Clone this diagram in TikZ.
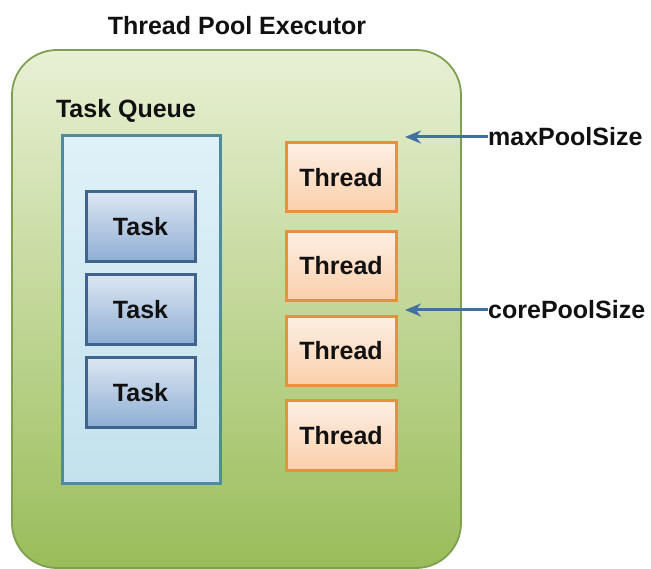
\documentclass[tikz,border=0pt]{standalone}
\usepackage{fontspec}
\setmainfont{Liberation Sans}
\usetikzlibrary{arrows.meta}
\definecolor{poolTop}{HTML}{E8F0D4}
\definecolor{poolBot}{HTML}{9ABD5A}
\definecolor{poolLine}{HTML}{7FA050}
\definecolor{queueTop}{HTML}{DFF1F8}
\definecolor{queueBot}{HTML}{C3E2ED}
\definecolor{queueLine}{HTML}{4E8C9C}
\definecolor{taskTop}{HTML}{DCE6F2}
\definecolor{taskBot}{HTML}{8EAED4}
\definecolor{taskLine}{HTML}{3F648E}
\definecolor{thrTop}{HTML}{FDEFE4}
\definecolor{thrBot}{HTML}{FBCFAA}
\definecolor{thrLine}{HTML}{E7913E}
\definecolor{arrowCol}{HTML}{41719C}
\definecolor{txt}{HTML}{111111}
\tikzset{
  lbl/.style={font=\fontsize{25}{29}\selectfont\bfseries, text=txt, inner sep=0pt},
  poolbox/.style={draw=poolLine, line width=1.8pt, top color=poolTop, bottom color=poolBot, rounded corners=45pt, minimum width=449pt, minimum height=518pt, inner sep=0pt},
  queuebox/.style={draw=queueLine, line width=3pt, top color=queueTop, bottom color=queueBot, minimum width=158pt, minimum height=347pt, inner sep=0pt},
  taskbox/.style={lbl, draw=taskLine, line width=3pt, top color=taskTop, bottom color=taskBot, minimum width=109pt, minimum height=70pt},
  thrbox/.style={lbl, draw=thrLine, line width=3pt, top color=thrTop, bottom color=thrBot, minimum width=110pt, minimum height=69pt},
  ptr/.style={draw=arrowCol, line width=3pt, -{Stealth[length=16pt,width=13pt]}}
}
\begin{document}
\begin{tikzpicture}[x=1pt,y=-1pt]
\useasboundingbox (0,0) rectangle (651,569);
\node[poolbox] (pool) at (236.5,309) {};
\node[lbl] (title) at (237,26) {Thread Pool Executor};
\node[queuebox] (queue) at (141,309.5) {};
\node[lbl] (qlabel) at (126,111) {Task Queue};
\node[taskbox] (t1) at (140.5,227) {Task};
\node[taskbox] (t2) at (140.5,310) {Task};
\node[taskbox] (t3) at (140.5,392.5) {Task};
\node[thrbox] (h1) at (341,177.5) {Thread};
\node[thrbox] (h2) at (341,266) {Thread};
\node[thrbox] (h3) at (341,351) {Thread};
\node[thrbox] (h4) at (341,435.5) {Thread};
\node[lbl, anchor=west] (maxl) at (488,137) {maxPoolSize};
\node[lbl, anchor=west] (corel) at (488,310) {corePoolSize};
\coordinate (maxp) at (405,137);
\coordinate (corep) at (405,310);
\draw[ptr] (maxl.west) -- (maxp);
\draw[ptr] (corel.west) -- (corep);
\end{tikzpicture}
\end{document}
